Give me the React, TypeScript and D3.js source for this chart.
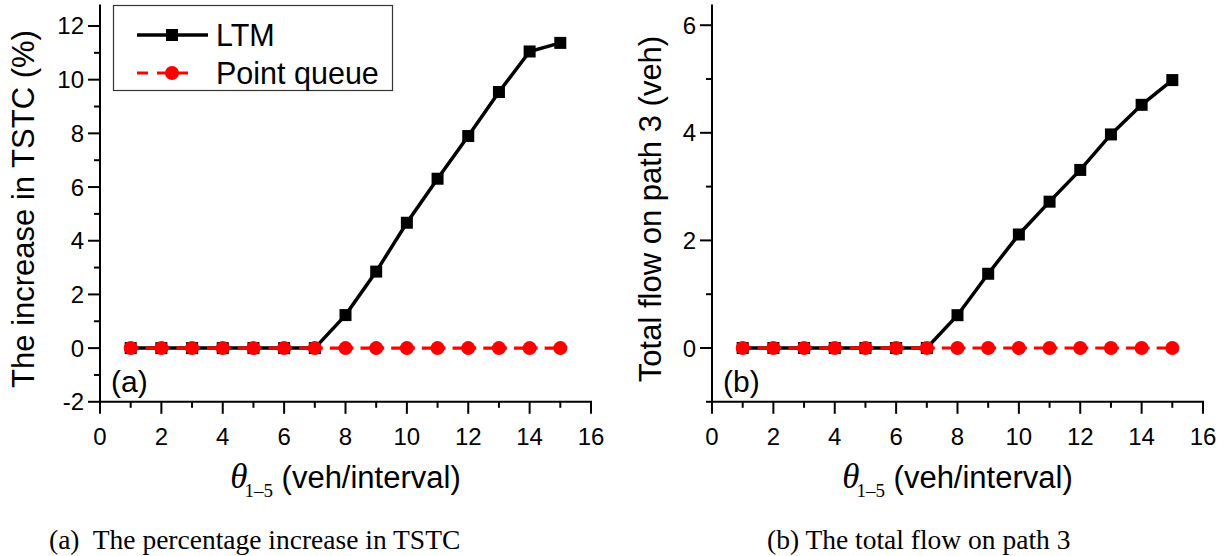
import React from "react";
import * as d3 from "d3";

const thetaValues = [1, 2, 3, 4, 5, 6, 7, 8, 9, 10, 11, 12, 13, 14, 15];
const ltmTstcIncrease = [0, 0, 0, 0, 0, 0, 0, 1.23, 2.85, 4.67, 6.31, 7.9, 9.54, 11.05, 11.37];
const pqTstcIncrease = [0, 0, 0, 0, 0, 0, 0, 0, 0, 0, 0, 0, 0, 0, 0];
const ltmPath3Flow = [0, 0, 0, 0, 0, 0, 0, 0.61, 1.38, 2.11, 2.72, 3.31, 3.97, 4.52, 4.98];
const pqPath3Flow = [0, 0, 0, 0, 0, 0, 0, 0, 0, 0, 0, 0, 0, 0, 0];
const xTicks = [0, 2, 4, 6, 8, 10, 12, 14, 16];
const xMinorTicks = [1, 3, 5, 7, 9, 11, 13, 15];
const leftYTicks = [-2, 0, 2, 4, 6, 8, 10, 12];
const leftYMinor = [-1, 1, 3, 5, 7, 9, 11];
const rightYTicks = [0, 2, 4, 6];
const rightYMinor = [-1, 1, 3, 5];
const seriesNames = ["LTM", "Point queue"];

const SANS = "'Liberation Sans', Arial, sans-serif";
const SERIF = "'Liberation Serif', 'Times New Roman', serif";

type PanelProps = {
  x0: number;
  yDomain: [number, number];
  yTicks: number[];
  yMinor: number[];
  ltm: number[];
  pq: number[];
  yTitle: string;
  tag: string;
  titleX: number;
};

function Panel({ x0, yDomain, yTicks, yMinor, ltm, pq, yTitle, tag, titleX }: PanelProps) {
  const x = d3.scaleLinear().domain([0, 16]).range([x0, x0 + 491]);
  const y = d3.scaleLinear().domain(yDomain).range([401.8, 4.5]);
  const yBottom = y(yDomain[0]);
  const line = d3
    .line<number>()
    .x((_, i) => x(thetaValues[i]))
    .y((d) => y(d));
  const major = 12;
  const minor = 6;
  const step = x(1) - x(0);
  const dash = `8 7 ${step - 15} 0`;
  return (
    <g>
      <path d={line(ltm) || ""} fill="none" stroke="#000" strokeWidth={3.5} />
      {ltm.map((d, i) => (
        <rect key={"s" + i} x={x(thetaValues[i]) - 6} y={y(d) - 6} width={12} height={12} fill="#000" />
      ))}
      <path d={line(pq) || ""} fill="none" stroke="#ff0000" strokeWidth={3.2} strokeDasharray={dash} />
      {pq.map((d, i) => (
        <circle key={"c" + i} cx={x(thetaValues[i])} cy={y(d)} r={7} fill="#ff0000" />
      ))}
      <line x1={x0} x2={x0} y1={y(yDomain[1])} y2={yBottom + 1} stroke="#000" strokeWidth={2} />
      <line x1={x0 - 1} x2={x(16) + 1} y1={yBottom} y2={yBottom} stroke="#000" strokeWidth={2} />
      {xTicks.map((t) => (
        <g key={"xt" + t}>
          <line x1={x(t)} x2={x(t)} y1={yBottom} y2={yBottom + major} stroke="#000" strokeWidth={2} />
          <text x={x(t)} y={445} textAnchor="middle" fontFamily={SANS} fontSize={24} fill="#000">
            {t}
          </text>
        </g>
      ))}
      {xMinorTicks.map((t) => (
        <line key={"xm" + t} x1={x(t)} x2={x(t)} y1={yBottom} y2={yBottom + minor} stroke="#000" strokeWidth={2} />
      ))}
      {yTicks.map((t) => (
        <g key={"yt" + t}>
          <line x1={x0 - major} x2={x0} y1={y(t)} y2={y(t)} stroke="#000" strokeWidth={2} />
          <text x={x0 - 16} y={y(t) + 8.5} textAnchor="end" fontFamily={SANS} fontSize={24} fill="#000">
            {t}
          </text>
        </g>
      ))}
      {yMinor.map((t) => (
        <line key={"ym" + t} x1={x0 - minor} x2={x0} y1={y(t)} y2={y(t)} stroke="#000" strokeWidth={2} />
      ))}
      <text
        transform={`translate(${titleX},209) rotate(-90)`}
        textAnchor="middle"
        fontFamily={SANS}
        fontSize={31}
        fill="#000"
      >
        {yTitle}
      </text>
      <text x={(x(0) + x(16)) / 2} y={488} textAnchor="middle" fill="#000">
        <tspan fontFamily={SERIF} fontStyle="italic" fontSize={35}>θ</tspan>
        <tspan fontFamily={SERIF} fontSize={19} dy={9} dx={-3}>1–5</tspan>
        <tspan fontFamily={SANS} fontSize={31} dy={-9}> (veh/interval)</tspan>
      </text>
      <text x={x0 + 11} y={392} fontFamily={SANS} fontSize={30} fill="#000">
        {tag}
      </text>
    </g>
  );
}

export default function App() {
  return (
    <svg
      width={1229}
      height={556}
      viewBox="0 0 1229 556"
      style={{ position: "absolute", left: 0, top: 0, background: "#fff" }}
    >
      <rect x={0} y={0} width={1229} height={556} fill="#fff" />
      <Panel
        x0={100}
        yDomain={[-2, 12.8]}
        yTicks={leftYTicks}
        yMinor={leftYMinor}
        ltm={ltmTstcIncrease}
        pq={pqTstcIncrease}
        yTitle="The increase in TSTC (%)"
        tag="(a)"
        titleX={34}
      />
      <Panel
        x0={712}
        yDomain={[-1, 6.385]}
        yTicks={rightYTicks}
        yMinor={rightYMinor}
        ltm={ltmPath3Flow}
        pq={pqPath3Flow}
        yTitle="Total flow on path 3 (veh)"
        tag="(b)"
        titleX={661}
      />
      <g>
        <rect x={113.5} y={5.5} width={279} height={85} fill="#fff" stroke="#333" strokeWidth={1.2} />
        <line x1={137} x2={208} y1={35} y2={35} stroke="#000" strokeWidth={3.5} />
        <rect x={166} y={29} width={12} height={12} fill="#000" />
        <text x={216} y={46} fontFamily={SANS} fontSize={30.5} fill="#000">
          {seriesNames[0]}
        </text>
        <line x1={137} x2={188} y1={73} y2={73} stroke="#ff0000" strokeWidth={3.2} strokeDasharray="11 9" />
        <circle cx={172} cy={73} r={7} fill="#ff0000" />
        <text x={216} y={84} fontFamily={SANS} fontSize={30.5} fill="#000">
          {seriesNames[1]}
        </text>
      </g>
      <text x={49} y={549} fontFamily={SERIF} fontSize={27.5} fill="#000" xmlSpace="preserve">
        (a)  The percentage increase in TSTC
      </text>
      <text x={767} y={549} fontFamily={SERIF} fontSize={27.5} fill="#000">
        (b) The total flow on path 3
      </text>
    </svg>
  );
}
